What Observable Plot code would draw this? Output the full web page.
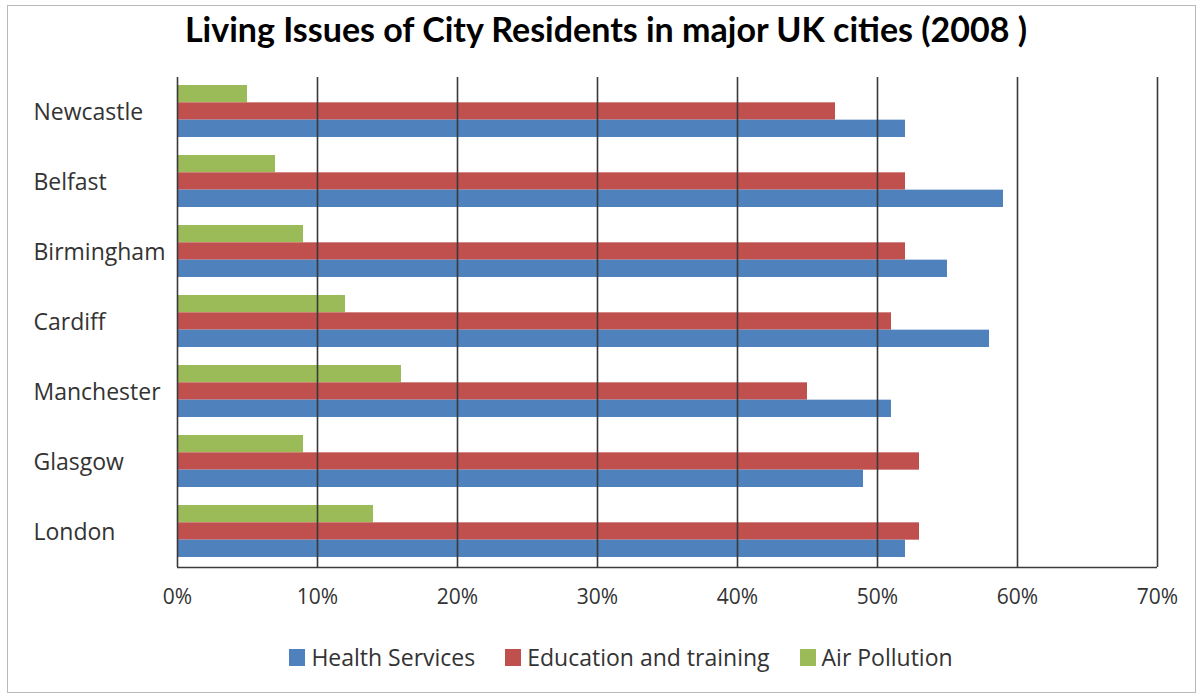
<!DOCTYPE html>
<html>
<head>
<meta charset="utf-8">
<script src="https://cdn.jsdelivr.net/npm/d3@7"></script>
<script src="https://cdn.jsdelivr.net/npm/@observablehq/plot@0.6"></script>
<style>
  html, body { margin: 0; padding: 0; background: #fff; }
  #wrap { position: relative; width: 1200px; height: 696px; overflow: hidden; }
  #border { position: absolute; left: 7px; top: 5px; width: 1189px; height: 688px; border: 1px solid #b8b8b8; box-sizing: border-box; }
  #title { position: absolute; left: 0; width: 1212px; top: 9px; text-align: center; font-family: Lato, sans-serif; font-weight: bold; font-size: 34px; line-height: 40px; color: #000; }
  #chart { position: absolute; left: 0; top: 0; }
  #legend { position: absolute; left: 0; top: 642px; width: 1242px; display: flex; justify-content: center; font-family: "Open Sans", sans-serif; font-size: 23px; line-height: 30px; color: #333; }
  .item { display: flex; align-items: center; margin: 0 15px; }
  .sw { width: 16px; height: 17px; margin-right: 6px; }
</style>
</head>
<body>
<div id="wrap">
  <div id="border"></div>
  <div id="title">Living Issues of City Residents in major UK cities (2008 )</div>
  <div id="chart"></div>
  <div id="legend"></div>
</div>
<script>
const cities = ["Newcastle", "Belfast", "Birmingham", "Cardiff", "Manchester", "Glasgow", "London"];
const seriesNames = ["Health Services", "Education and training", "Air Pollution"];
const health = [52, 59, 55, 58, 51, 49, 52];
const education = [47, 52, 52, 51, 45, 53, 53];
const air = [5, 7, 9, 12, 16, 9, 14];
const colors = ["#4F81BD", "#C0504D", "#9BBB59"];
const xTicks = [0, 10, 20, 30, 40, 50, 60, 70];

const rows = (vals) => cities.map((c, i) => ({city: c, value: vals[i]}));
const H = rows(health), E = rows(education), A = rows(air);

const band = 70, barH = 17.33, top0 = 8;
const inset = (k) => ({insetTop: top0 + k * barH, insetBottom: band - top0 - (k + 1) * barH});

const plot = Plot.plot({
  width: 1200,
  height: 696,
  marginLeft: 177,
  marginRight: 43,
  marginTop: 77,
  marginBottom: 129,
  x: {domain: [0, 70], ticks: xTicks, tickFormat: d => d + "%", label: null, tickSize: 0, tickPadding: 22},
  y: {domain: cities, padding: 0, axis: null},
  style: {fontFamily: "Open Sans, sans-serif", fontSize: "21px", color: "#333", background: "transparent"},
  marks: [
    Plot.barX(A, {x: "value", y: "city", fill: colors[2], ...inset(0)}),
    Plot.barX(E, {x: "value", y: "city", fill: colors[1], ...inset(1)}),
    Plot.barX(H, {x: "value", y: "city", fill: colors[0], ...inset(2)}),
    Plot.ruleX(xTicks, {stroke: "#3a3a3a", strokeWidth: 1.6}),
    Plot.ruleY([cities[cities.length - 1]], {dy: band / 2, stroke: "#3a3a3a", strokeWidth: 1.6}),
    Plot.text(cities, {y: d => d, text: d => d, frameAnchor: "left", dx: -144, textAnchor: "start", fontSize: 23, fill: "#333"})
  ]
});
document.getElementById("chart").appendChild(plot);

const legend = document.getElementById("legend");
seriesNames.forEach((s, i) => {
  const it = document.createElement("div");
  it.className = "item";
  const sw = document.createElement("div");
  sw.className = "sw";
  sw.style.background = colors[i];
  const t = document.createElement("span");
  t.textContent = s;
  it.appendChild(sw); it.appendChild(t);
  legend.appendChild(it);
});
</script>
</body>
</html>
